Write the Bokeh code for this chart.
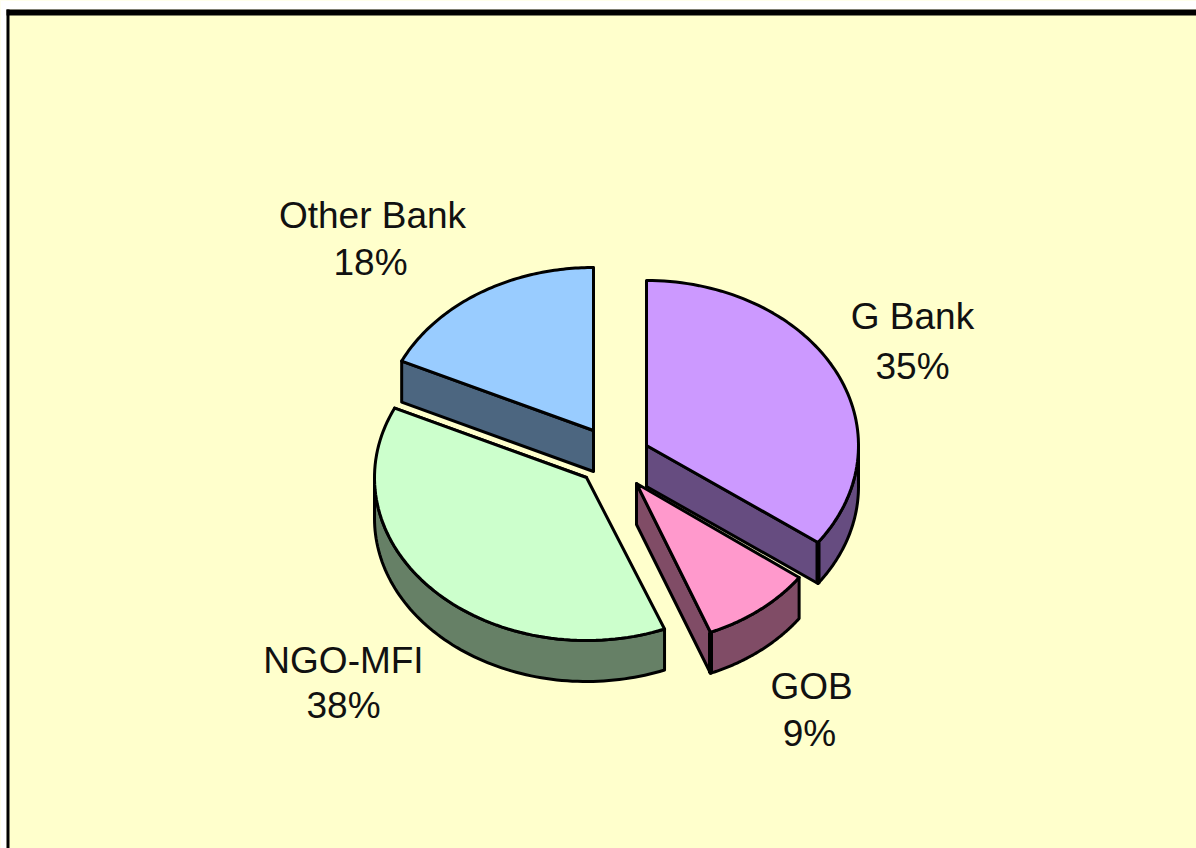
import numpy as np
from bokeh.plotting import figure
from bokeh.models import Range1d
from bokeh.embed import file_html
from bokeh.resources import INLINE
from bokeh.core.properties import value

# Data (clockwise from 12 o'clock)
categories = ["G Bank", "GOB", "NGO-MFI", "Other Bank"]
shares = [35, 9, 38, 18]

# Styling
top_colors = ["#CC99FF", "#FF99CC", "#CCFFCC", "#99CCFF"]
side_colors = ["#664C80", "#804C66", "#668066", "#4C6680"]
BG = "#FFFFCC"
FONT = "Liberation Sans"

# Layout: exploded apex of each slice, ellipse radii, extrusion depth (pixels)
apex_x = [646, 636, 586, 593]
apex_y = [445, 483, 477, 430]
radius_x = [212, 201, 212, 212]
radius_y = [165, 160, 163, 163]
DEPTH = 41
label_x = [912, 811, 343, 372]
label_y = [316, 686, 660, 215]
pct_x = [912, 809, 343, 370]
pct_y = [366, 733, 705, 262]
draw_order = [3, 2, 0, 1]

W, H = 1196, 848
p = figure(width=W, height=H, x_range=Range1d(0, W), y_range=Range1d(H, 0),
           output_backend="svg", toolbar_location=None, min_border=0,
           background_fill_color=BG, border_fill_color="white", outline_line_color=None)
p.axis.visible = False
p.grid.visible = False

# Frame of the chart panel
p.quad(left=[0, 0], right=[W, 6], top=[0, 0], bottom=[9, H], fill_color="white", line_color=None)
p.quad(left=[6, 6], right=[W, 9], top=[9, 9], bottom=[15, H], fill_color="black", line_color=None)


def rim(cx, cy, rx, ry, a0, a1):
    t = np.radians(np.linspace(a0, a1, 80))
    return cx + rx * np.sin(t), cy - ry * np.cos(t)


edges = np.concatenate([[0], np.cumsum(shares)]) * 3.6

for i in draw_order:
    a0, a1 = edges[i], edges[i + 1]
    cx, cy, rx, ry = apex_x[i], apex_y[i], radius_x[i], radius_y[i]
    style = dict(fill_color=side_colors[i], line_color="black", line_width=3, line_join="round")

    # Outer wall: only the front half of the rim is visible
    v0, v1 = max(a0, 90), min(a1, 270)
    if v0 < v1:
        x, y = rim(cx, cy, rx, ry, v0, v1)
        p.patch(np.r_[x, x[::-1]], np.r_[y, y[::-1] + DEPTH], **style)

    # Cut faces that look towards the viewer
    for a, show in ((a0, a0 > 270), (a1, a1 < 180 or 270 < a1 < 360)):
        if show:
            x, y = rim(cx, cy, rx, ry, a, a)
            ex, ey = x[0], y[0]
            p.patch([cx, ex, ex, cx], [cy, ey, ey + DEPTH, cy + DEPTH], **style)
            if a < 180 and a1 == a:
                p.line([ex, ex], [ey, ey + DEPTH], line_color="black", line_width=5)

    # Top face
    x, y = rim(cx, cy, rx, ry, a0, a1)
    p.patch(np.r_[cx, x], np.r_[cy, y], fill_color=top_colors[i], line_color="black",
            line_width=3, line_join="round")

p.text(x=label_x, y=label_y, text=categories, text_font=value(FONT), text_font_size="37px",
       text_color="#111111", text_align="center", text_baseline="middle")
p.text(x=pct_x, y=pct_y, text=[f"{s}%" for s in shares], text_font=value(FONT),
       text_font_size="37px", text_color="#111111", text_align="center", text_baseline="middle")

open("out.html", "w").write(file_html(p, INLINE))
